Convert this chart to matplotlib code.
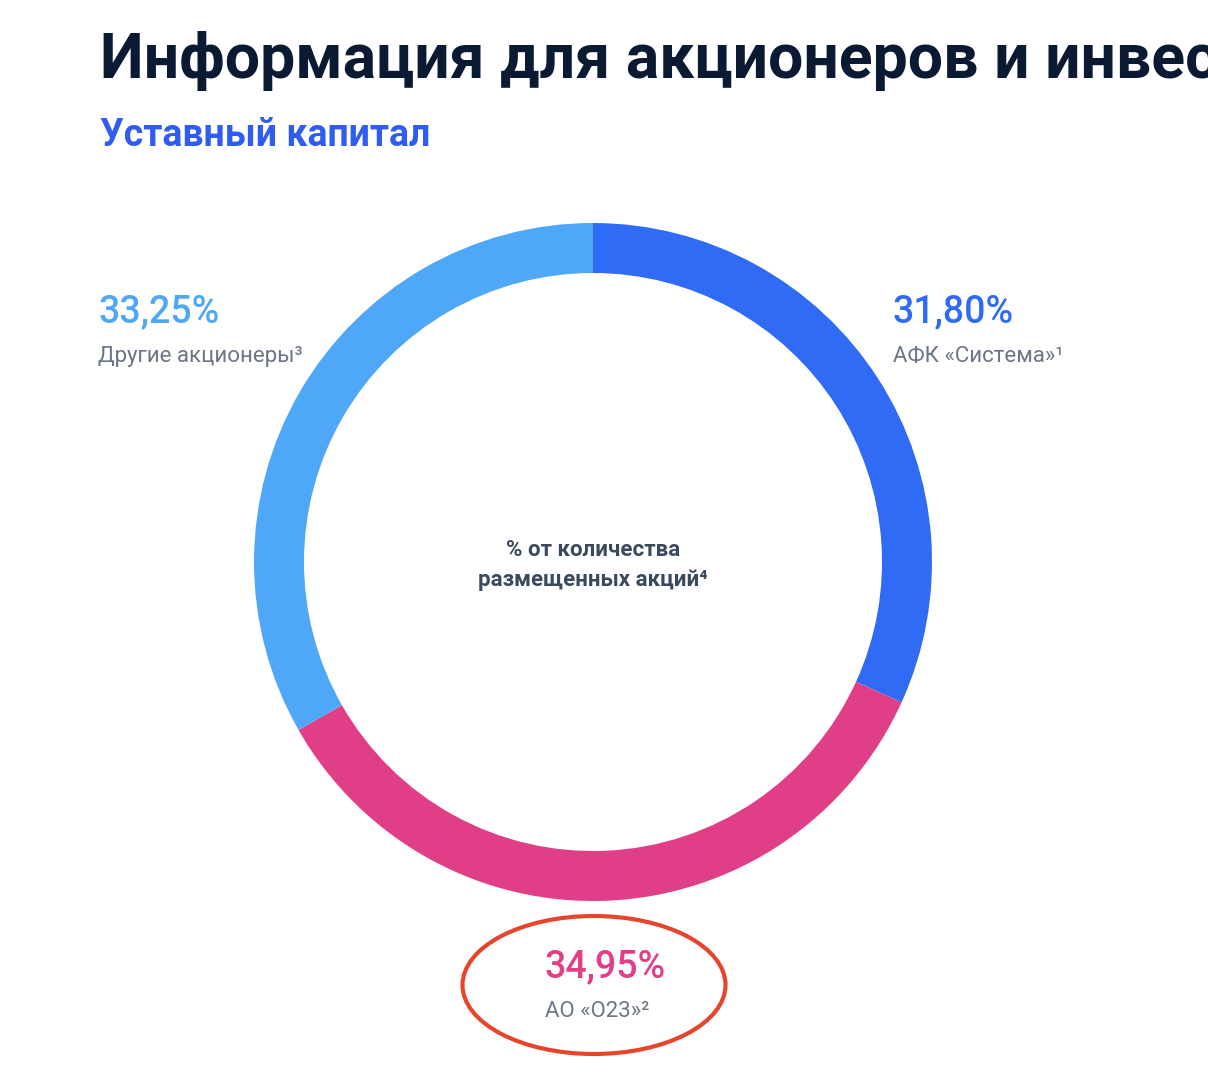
import matplotlib.pyplot as plt
from matplotlib.patches import Ellipse

W, H = 1208, 1074

# shares, clockwise from 12 o'clock
labels = ['АФК «Система»¹', 'АО «О23»²', 'Другие акционеры³']
shares = [31.80, 34.95, 33.25]
share_text = ['31,80%', '34,95%', '33,25%']
colors = ['#306BF6', '#E03F88', '#4FA7F7']

FONT = ['Roboto', 'DejaVu Sans']


def Y(py):
    # pixel row from top -> data y
    return H - py


fig = plt.figure(figsize=(W / 100, H / 100), dpi=100)
ax = fig.add_axes([0, 0, 1, 1])

ax.pie(shares, colors=colors, startangle=90, counterclock=False,
       center=(593, Y(562)), radius=339,
       wedgeprops=dict(width=50, linewidth=0))

ax.set_xlim(0, W)
ax.set_ylim(0, H)
ax.set_aspect('auto')
ax.axis('off')

# headings (title runs off the right edge as in the source page)
ax.text(100, Y(78), 'Информация для акционеров и инвесторов', fontsize=45,
        fontweight='bold', color='#0B1A33', family=FONT, va='baseline')
ax.text(100, Y(146), 'Уставный капитал', fontsize=27, fontweight='bold',
        color='#2F5DF2', family=FONT, va='baseline')

# slice labels
label_pos = [(893, 322), (545, 977), (98, 322)]
for (x, y), pct, lab, c in zip(label_pos, share_text, labels, colors):
    ax.text(x, Y(y), pct, fontsize=27, fontweight='medium', color=c,
            family=FONT, va='baseline')
    ax.text(x, Y(y + 40), lab, fontsize=16, color='#6B7585',
            family=FONT, va='baseline')

# centre caption
ax.text(593, Y(556), '% от количества', fontsize=16, fontweight='bold',
        color='#3A4A5E', family=FONT, ha='center', va='baseline')
ax.text(593, Y(586), 'размещенных акций⁴', fontsize=16, fontweight='bold',
        color='#3A4A5E', family=FONT, ha='center', va='baseline')

# highlight around O23
ax.add_patch(Ellipse((594, Y(985)), 263, 138, fill=False,
                     edgecolor='#E6452B', linewidth=3))

fig.savefig('out.png', dpi=100)
